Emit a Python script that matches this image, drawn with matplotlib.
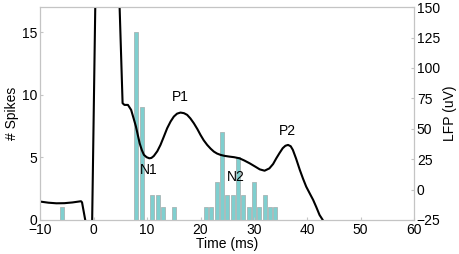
import matplotlib
matplotlib.use('Agg')
import matplotlib.pyplot as plt

plt.rcParams['font.family'] = ['Liberation Sans', 'DejaVu Sans']

# spike histogram (1 ms bins)
bin_times = [-6, 8, 9, 11, 12, 13, 15, 21, 22, 23, 24, 25, 26, 27, 28, 29, 30, 31, 32, 33, 34]
spike_counts = [1, 15, 9, 2, 2, 1, 1, 1, 1, 3, 7, 2, 2, 5, 2, 1, 3, 1, 2, 1, 1]

# LFP trace (ms, uV)
lfp_t = [-10, -8.5, -7, -5.5, -4, -2.4, -2.2, -1.6, -1.0, -0.3, 0.3, 2.5, 4.8,
         5.4, 5.75, 6.4, 7.0, 7.5, 7.9, 8.6, 9.0, 9.4, 9.9, 10.4, 10.8, 11.25,
         11.9, 12.5, 13.1, 13.75, 14.4, 15, 15.6, 16.25, 16.9, 17.5, 18.1,
         18.75, 19.4, 20, 20.6, 21.25, 21.9, 22.5, 23.1, 23.75, 24.5, 25.4,
         26.3, 27.3, 28.2, 29.2, 30.2, 31.1, 32, 32.9, 33.6, 34.2, 34.8, 35.4,
         35.9, 36.4, 36.9, 37.3, 37.9, 38.6, 39.2, 39.8, 40.5, 41.1, 41.7,
         42.3, 42.9, 43.5]
lfp_uv = [-9.9, -10.8, -11.3, -11.2, -10.6, -9.6, -10.5, -25, -40, -25, 156, 400, 156,
          71, 69.6, 69.6, 65.5, 58, 51.8, 38, 32.5, 28.5, 26.6, 25.7, 26.0, 27.6,
          31.5, 36.7, 43.2, 50.4, 56.0, 60, 62.4, 63.3, 62.8, 61.4, 58.5,
          54.5, 49.8, 44.9, 40.5, 36.7, 33.6, 31.2, 29.6, 28.5, 27.7, 27.1,
          26.6, 25.7, 23.9, 21.6, 19.0, 16.6, 15.5, 17.4, 21.0, 25.7, 30.0, 34,
          36.0, 36.7, 35.6, 32.6, 25.5, 16.2, 9.0, 2.4, -3.5, -8.5, -14.5,
          -20.9, -25, -32]

# component labels (ms, uV)
comp_names = ['N1', 'P1', 'N2', 'P2']
comp_t = [10.2, 16.2, 26.7, 36.2]
comp_uv = [16, 76, 10.6, 48]

grey = '#c4c4c4'

fig = plt.figure(figsize=(4.59, 2.54), dpi=100)
ax = fig.add_axes([0.088, 0.134, 0.814, 0.838])
ax.bar(bin_times, spike_counts, width=0.75, color='#7fcfcf', edgecolor='#a8b4b4',
       linewidth=0.6)
ax.set_xlim(-10, 60)
ax.set_ylim(0, 17)
ax.set_xticks(range(-10, 61, 10))
ax.set_yticks([0, 5, 10, 15])
ax.set_ylabel('# Spikes', fontsize=10, labelpad=2)
ax.set_xlabel('Time (ms)', fontsize=10, labelpad=0)

ax2 = ax.twinx()
ax2.plot(lfp_t, lfp_uv, color='black', linewidth=1.5)
ax2.set_ylim(-25, 150)
ax2.set_yticks(range(-25, 151, 25))
ax2.set_ylabel('LFP (uV)', fontsize=10, labelpad=2)
for name, t, v in zip(comp_names, comp_t, comp_uv):
    ax2.text(t, v, name, fontsize=10, ha='center', va='center')

for a in (ax, ax2):
    for s in a.spines.values():
        s.set_color(grey)
    a.tick_params(direction='in', length=2.5, color=grey, labelsize=10, pad=2)

plt.savefig('out.png', dpi=100)
plt.close()
